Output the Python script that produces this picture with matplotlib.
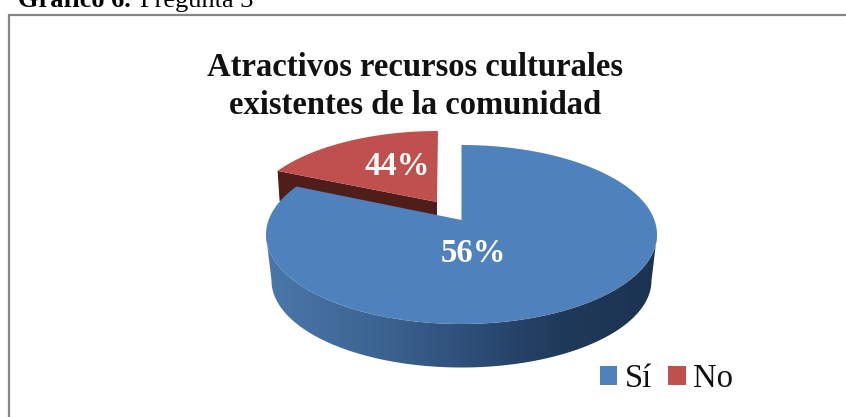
import numpy as np
import matplotlib
matplotlib.use("Agg")
import matplotlib.pyplot as plt
from matplotlib.patches import Polygon, Rectangle, Patch
from matplotlib.colors import LinearSegmentedColormap

# ---- data ----
categories = ["Sí", "No"]
shares = [84, 16]               # drawn slice shares, as they appear in the picture
printed_labels = ["56%", "44%"]  # percentages printed on the slices
title_lines = ["Atractivos recursos culturales", "existentes de la comunidad"]

# ---- style ----
BLUE, RED = "#4f81bd", "#c0504d"
DARK_RED = "#4f1d1a"
plt.rcParams["font.family"] = ["Liberation Serif", "DejaVu Serif"]

W, H = 846, 417
fig = plt.figure(figsize=(W / 100, H / 100), dpi=100)
ax = fig.add_axes([0, 0, 1, 1])
ax.set_xlim(0, W)
ax.set_ylim(H, 0)
ax.axis("off")

# frame and caption
ax.add_patch(Rectangle((9, 14.5), W + 20, H + 20, fc="white", ec="#868686", lw=1.6, zorder=0))
ax.text(18, 7, "Gráfico 6.", fontsize=19, fontweight="bold", ha="left", va="baseline", color="black")
ax.text(140, 7, "Pregunta 3", fontsize=19, ha="left", va="baseline", color="black")

# title
ax.text(415, 67, title_lines[0], fontsize=23.5, fontweight="bold", ha="center", va="center", color="#111111")
ax.text(415, 105, title_lines[1], fontsize=23.5, fontweight="bold", ha="center", va="center", color="#111111")


def ell(cx, cy, rx, ry, deg):
    t = np.radians(deg)
    return np.column_stack([cx + rx * np.cos(t), cy - ry * np.sin(t)])


# slice angles derived from the shares, clockwise from the top
sweep_blue = 360 * shares[0] / sum(shares)
start = 90.0
end = start - sweep_blue

RX, RY = 195.5, 89.5
BX, BY = 461.5, 234.5     # blue slice ellipse centre
APEX_B = (461.5, 220)
RCX, RCY = 438, 217       # red slice, pulled out
RRX, RRY = 190, 86
APEX_R = (437, 202)
DEPTH_R = 14

# wall of the blue slice: gradient clipped to band between top and bottom rims
top_rim = ell(BX, BY, RX, RY, np.linspace(180, 360, 200))
bot_rim = ell(BX, BY + 46, RX - 5.5, RY - 2.5, np.linspace(360, 180, 200))
wall = Polygon(np.vstack([top_rim, bot_rim]), closed=True, fc="none", ec="none", zorder=2)
ax.add_patch(wall)
cmap = LinearSegmentedColormap.from_list("w", ["#4a77aa", "#3f6795", "#2f507a", "#1f3a5b", "#1c3350"])
im = ax.imshow(np.linspace(0, 1, 256)[None, :], cmap=cmap, extent=(BX - RX, BX + RX, 380, 230),
               aspect="auto", zorder=2)
im.set_clip_path(wall)
ax.set_xlim(0, W)
ax.set_ylim(H, 0)

# red slice: wall of the cut, then top face
red_arc = ell(RCX, RCY, RRX, RRY, np.linspace(end + 360, 90, 80))
left_corner = red_arc[0]
ax.add_patch(Polygon([left_corner, APEX_R, (APEX_R[0], APEX_R[1] + DEPTH_R),
                      (left_corner[0] + 2, left_corner[1] + 30)],
                     closed=True, fc=DARK_RED, ec="none", zorder=3))
ax.add_patch(Polygon(np.vstack([red_arc, [APEX_R]]), closed=True, fc=RED, ec="none", zorder=4))

# blue slice top face
blue_arc = ell(BX, BY, RX, RY, np.linspace(start, end, 400))
ax.add_patch(Polygon(np.vstack([blue_arc, [APEX_B]]), closed=True, fc=BLUE, ec="none", zorder=5))

# printed labels
ax.text(473.5, 254, printed_labels[0], color="white", fontsize=23.5, fontweight="bold",
        ha="center", va="center", zorder=6)
ax.text(397, 166, printed_labels[1], color="white", fontsize=23.5, fontweight="bold",
        ha="center", va="center", zorder=6)

# legend
handles = [Patch(fc=BLUE, ec="none"), Patch(fc=RED, ec="none")]
ax.legend(handles, categories, ncol=2, frameon=False, fontsize=23.5,
          loc="center left", bbox_to_anchor=(574 / W, 1 - 379 / H),
          handlelength=0.53, handleheight=0.53, handletextpad=0.23, columnspacing=0.5,
          borderpad=0.3, labelspacing=0, labelcolor="#111111")

fig.savefig("out.png", dpi=100)
